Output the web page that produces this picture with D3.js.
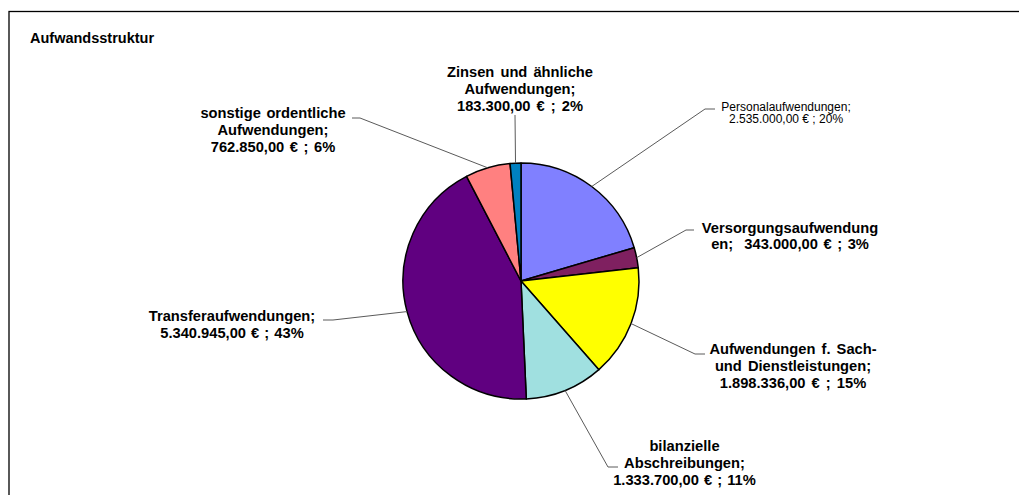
<!DOCTYPE html>
<html><head><meta charset="utf-8">
<script src="https://cdn.jsdelivr.net/npm/d3@7"></script>
<style>body{margin:0;background:#fff;overflow:hidden}</style>
</head><body><svg id="c" width="1019" height="495"></svg>
<script>
// ---- data ----
const title = "Aufwandsstruktur";
const categories = ["Personalaufwendungen", "Versorgungsaufwendungen", "Aufwendungen f. Sach- und Dienstleistungen", "bilanzielle Abschreibungen", "Transferaufwendungen", "sonstige ordentliche Aufwendungen", "Zinsen und ähnliche Aufwendungen"];
const values = [2535000, 343000, 1898336, 1333700, 5340945, 762850, 183300];
const percents = [20, 3, 15, 11, 43, 6, 2];
const colors = ["#8080FF", "#7F2060", "#FFFF00", "#A0E0E0", "#600080", "#FF8080", "#0080C0"];

// ---- layout (positions / styles only) ----
const labelLayout = [
  {cx: 786, y0: 110.5, lh: 12.3, size: 12, weight: "normal", ws: 0, sep: " ", breaks: ["Personalaufwendungen;"], elbow: [705, 109], end: [715, 109]},
  {cx: 790, y0: 232.5, lh: 16.8, size: 14.7, weight: "bold", ws: 1.5, sep: "  ", breaks: ["Versorgungsaufwendung"], elbow: [686, 230], end: [694, 230]},
  {cx: 793, y0: 354, lh: 17, size: 14.7, weight: "bold", ws: 2, sep: " ", breaks: ["Sach-", "Dienstleistungen;"], elbow: [695, 354], end: [705, 354]},
  {cx: 684.5, y0: 450.5, lh: 17, size: 14.7, weight: "bold", ws: 1, sep: " ", breaks: ["bilanzielle", "Abschreibungen;"], elbow: [608, 467], end: [618, 467]},
  {cx: 232, y0: 321, lh: 16.5, size: 14.7, weight: "bold", ws: 1, sep: " ", breaks: ["Transferaufwendungen;"], elbow: [333, 320], end: [323, 320]},
  {cx: 273, y0: 118.3, lh: 16.8, size: 14.7, weight: "bold", ws: 1.5, sep: " ", breaks: ["ordentliche", "Aufwendungen;"], elbow: [360, 118], end: [352, 118]},
  {cx: 520, y0: 76.7, lh: 17, size: 14.7, weight: "bold", ws: 2, sep: " ", breaks: ["ähnliche", "Aufwendungen;"], elbow: [515, 115], end: [515, 115]}
];

const cx = 521, cy = 281, R = 118;
const svg = d3.select("#c");
const font = "'Liberation Sans', Arial, sans-serif";

// frame
svg.append("rect").attr("x", 9).attr("y", 11.5).attr("width", 1100).attr("height", 600)
  .attr("fill", "#fff").attr("stroke", "#000").attr("stroke-width", 1.3);

svg.append("text").attr("x", 30).attr("y", 42.5).text(title)
  .attr("font-family", font).attr("font-weight", "bold").attr("font-size", 14.5).attr("fill", "#000");

const de = new Intl.NumberFormat("de-DE", {minimumFractionDigits: 2, maximumFractionDigits: 2});

const pie = d3.pie().sort(null).value(d => d)(values);
const arc = d3.arc().innerRadius(0).outerRadius(R);

const g = svg.append("g").attr("transform", `translate(${cx},${cy})`);

// leader lines
pie.forEach((p, i) => {
  const L = labelLayout[i];
  const a = (p.startAngle + p.endAngle) / 2;
  const px = cx + R * Math.sin(a), py = cy - R * Math.cos(a);
  svg.append("path")
    .attr("d", d3.line()([[px, py], L.elbow, L.end]))
    .attr("fill", "none").attr("stroke", "#5a5a5a").attr("stroke-width", 1);
});

g.selectAll("path.slice").data(pie).join("path").attr("class", "slice")
  .attr("d", arc).attr("fill", (d, i) => colors[i])
  .attr("stroke", "#000").attr("stroke-width", 1.5).attr("stroke-linejoin", "round");

// labels
pie.forEach((p, i) => {
  const L = labelLayout[i];
  let rest = `${categories[i]};${L.sep}${de.format(values[i])} € ; ${percents[i]}%`;
  const lines = [];
  L.breaks.forEach(b => {
    const k = rest.indexOf(b) + b.length;
    lines.push(rest.slice(0, k).trim());
    rest = rest.slice(k).replace(/^ /, "");
  });
  lines.push(rest);
  const t = svg.append("text").attr("font-family", font).attr("font-weight", L.weight)
    .attr("font-size", L.size).attr("fill", "#000").attr("text-anchor", "middle")
    .attr("word-spacing", L.ws)
    .attr("xml:space", "preserve").style("white-space", "pre");
  lines.forEach((ln, j) => {
    t.append("tspan").attr("x", L.cx).attr("y", L.y0 + j * L.lh).text(ln);
  });
});
</script></body></html>
